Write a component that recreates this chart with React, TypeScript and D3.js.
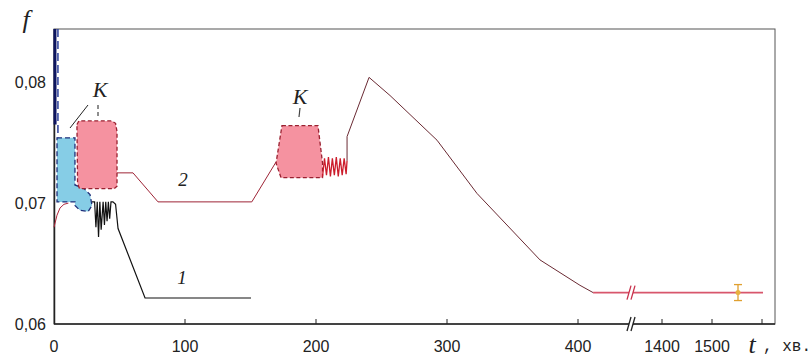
import { useEffect, useRef } from "react";
import * as d3 from "d3";

// t (min) and f values
const yTicks = [0.06, 0.07, 0.08];
const yTickLabels = ["0,06", "0,07", "0,08"];
const xTicks = [100, 200, 300, 400, 1400, 1500, 1600];
const xTickLabels = [
  [0, "0"],
  [100, "100"],
  [200, "200"],
  [300, "300"],
  [400, "400"],
  [1400, "1400"],
  [1500, "1500"],
];

// curve 1
const curve1Start = [
  [0.7, 0.0844],
  [0.8, 0.0765],
];
const curve1 = [
  [29, 0.0701],
  [31, 0.0701],
  [32, 0.068],
  [33, 0.0701],
  [34, 0.0672],
  [35, 0.0701],
  [36, 0.0678],
  [37.5, 0.0701],
  [38.5, 0.0682],
  [39.5, 0.0701],
  [40.5, 0.0685],
  [41.5, 0.0701],
  [42.5, 0.0687],
  [43.5, 0.0701],
  [45, 0.0701],
  [47, 0.0699],
  [48.9, 0.0679],
  [69.5, 0.06215],
  [150.4, 0.06215],
];
// region K of curve 1
const blueBox = [
  [2.3, 0.0754],
  [16, 0.0754],
  [16, 0.0715],
  [22.9, 0.0712],
  [27.5, 0.0707],
  [29, 0.0698],
  [26, 0.0693],
  [19.8, 0.0694],
  [16, 0.0698],
  [16, 0.0701],
  [2.3, 0.0701],
];
const blueEdge = [
  [3, 0.0844],
  [3, 0.0754],
];

// curve 2
const curve2Start = [
  [0, 0.068],
  [2.3, 0.069],
  [4.6, 0.0696],
  [7.6, 0.0699],
  [11, 0.07],
];
const curve2a = [
  [48.1, 0.0725],
  [60.3, 0.0725],
  [79.4, 0.0701],
  [151, 0.0701],
  [169.5, 0.0734],
];
const curve2Zig = [
  [205, 0.0722],
  [206.5, 0.0737],
  [208, 0.0723],
  [209.5, 0.0738],
  [211, 0.0722],
  [212.5, 0.0737],
  [214, 0.0723],
  [215.5, 0.0738],
  [217, 0.0722],
  [218.5, 0.0737],
  [220, 0.0723],
  [221.5, 0.0737],
  [223, 0.0724],
  [223.7, 0.0735],
];
const curve2b = [
  [223.7, 0.0735],
  [223.7, 0.0755],
  [240.5, 0.0804],
  [256.5, 0.0789],
  [292.4, 0.0752],
  [322.9, 0.0708],
  [371, 0.0653],
  [401.5, 0.0632],
  [411.5, 0.0626],
];
const curve2End = [
  [411.5, 0.0626],
  [440, 0.0626],
];
const curve2After = [
  [1338, 0.0626],
  [1602, 0.0626],
];
// regions K of curve 2
const pinkBox1 = [
  [17.5, 0.0765],
  [19, 0.0768],
  [44, 0.0768],
  [47, 0.0766],
  [48.1, 0.0759],
  [48.1, 0.0714],
  [46, 0.0712],
  [19.5, 0.0712],
  [18, 0.0716],
];
const pinkBox2 = [
  [174, 0.0764],
  [201.5, 0.0764],
  [205, 0.0733],
  [205, 0.0721],
  [173.3, 0.0721],
  [169.5, 0.0733],
];
const errBar = { t: 1552, f: 0.0626, e: 0.00066 };

const App = () => {
  const ref = useRef(null);

  useEffect(() => {
    const W = 811;
    const H = 358;
    const svg = d3.select(ref.current).attr("width", W).attr("height", H);
    svg.selectAll("*").remove();

    const x = d3
      .scaleLinear()
      .domain([0, 440, 1338, 1626])
      .range([54, 630.4, 631, 775]);
    const y = d3.scaleLinear().domain([0.06, 0.0844]).range([324, 29]);

    const line = d3
      .line()
      .x((d) => x(d[0]))
      .y((d) => y(d[1]));
    const area = d3
      .line()
      .x((d) => x(d[0]))
      .y((d) => y(d[1]))
      .curve(d3.curveLinearClosed);

    // frame
    svg
      .append("rect")
      .attr("x", 54)
      .attr("y", 29)
      .attr("width", 775 - 54)
      .attr("height", 324 - 29)
      .attr("fill", "none")
      .attr("stroke", "#555")
      .attr("stroke-width", 1);
    svg
      .append("line")
      .attr("x1", 54.5)
      .attr("x2", 54.5)
      .attr("y1", 29)
      .attr("y2", 324)
      .attr("stroke", "#222")
      .attr("stroke-width", 1.5);
    svg
      .append("line")
      .attr("x1", 54)
      .attr("x2", 775)
      .attr("y1", 324)
      .attr("y2", 324)
      .attr("stroke", "#222")
      .attr("stroke-width", 1.5);

    // x ticks (inward)
    svg
      .selectAll(".xt")
      .data(xTicks)
      .join("line")
      .attr("x1", (d) => x(d))
      .attr("x2", (d) => x(d))
      .attr("y1", 324)
      .attr("y2", 319)
      .attr("stroke", "#222");

    svg
      .selectAll(".xl")
      .data(xTickLabels)
      .join("text")
      .attr("x", (d) => x(d[0]))
      .attr("y", 352)
      .attr("text-anchor", "middle")
      .attr("font-family", "Liberation Sans, Arial, sans-serif")
      .attr("font-size", 16)
      .attr("fill", "#222")
      .text((d) => d[1]);

    svg
      .selectAll(".yl")
      .data(yTicks)
      .join("text")
      .attr("x", 46)
      .attr("y", (d) => y(d) + 6)
      .attr("text-anchor", "end")
      .attr("font-family", "Liberation Sans, Arial, sans-serif")
      .attr("font-size", 16)
      .attr("fill", "#222")
      .text((d, i) => yTickLabels[i]);

    // curve 2 start (under the fills)
    svg
      .append("path")
      .attr("d", line(curve2Start))
      .attr("fill", "none")
      .attr("stroke", "#b0283c")
      .attr("stroke-width", 1);

    // region K, curve 1
    svg
      .append("path")
      .attr("d", area(blueBox))
      .attr("fill", "#86cde6")
      .attr("stroke", "#1f2f7a")
      .attr("stroke-width", 1.3)
      .attr("stroke-dasharray", "5,3");
    svg
      .append("path")
      .attr("d", line(blueEdge))
      .attr("fill", "none")
      .attr("stroke", "#2a3f9a")
      .attr("stroke-width", 1.5)
      .attr("stroke-dasharray", "8,4");
    svg
      .append("path")
      .attr("d", line(curve1Start))
      .attr("fill", "none")
      .attr("stroke", "#0d1560")
      .attr("stroke-width", 3);

    // regions K, curve 2
    [pinkBox1, pinkBox2].forEach((b) => {
      svg
        .append("path")
        .attr("d", area(b))
        .attr("fill", "#f592a0")
        .attr("stroke", "#9a2030")
        .attr("stroke-width", 1.3)
        .attr("stroke-dasharray", "4,2.5");
    });

    // curve 1
    svg
      .append("path")
      .attr("d", line(curve1))
      .attr("fill", "none")
      .attr("stroke", "#111")
      .attr("stroke-width", 1.2);

    // curve 2
    svg
      .append("path")
      .attr("d", line(curve2a))
      .attr("fill", "none")
      .attr("stroke", "#9e2436")
      .attr("stroke-width", 1);
    svg
      .append("path")
      .attr("d", line(curve2Zig))
      .attr("fill", "none")
      .attr("stroke", "#cc1d2c")
      .attr("stroke-width", 1.3);
    svg
      .append("path")
      .attr("d", line(curve2b))
      .attr("fill", "none")
      .attr("stroke", "#6a2a33")
      .attr("stroke-width", 1);
    [curve2End, curve2After].forEach((seg) => {
      svg
        .append("path")
        .attr("d", line(seg))
        .attr("fill", "none")
        .attr("stroke", "#d8566c")
        .attr("stroke-width", 1.8);
    });

    // break marks
    const bx = 631;
    [y(0.0626), 324].forEach((by, i) => {
      const col = i === 0 ? "#c8304a" : "#222";
      svg
        .append("rect")
        .attr("x", bx - 2)
        .attr("y", by - 3)
        .attr("width", 4)
        .attr("height", 6)
        .attr("fill", "#fff");
      [-2, 2].forEach((o) => {
        svg
          .append("line")
          .attr("x1", bx + o - 2)
          .attr("y1", by + 7)
          .attr("x2", bx + o + 2)
          .attr("y2", by - 7)
          .attr("stroke", col)
          .attr("stroke-width", 1.3);
      });
    });

    // error bar
    const ex = x(errBar.t);
    svg
      .append("line")
      .attr("x1", ex)
      .attr("x2", ex)
      .attr("y1", y(errBar.f + errBar.e))
      .attr("y2", y(errBar.f - errBar.e))
      .attr("stroke", "#e0a030")
      .attr("stroke-width", 1.3);
    [errBar.f + errBar.e, errBar.f - errBar.e].forEach((v) => {
      svg
        .append("line")
        .attr("x1", ex - 4)
        .attr("x2", ex + 4)
        .attr("y1", y(v))
        .attr("y2", y(v))
        .attr("stroke", "#e0a030")
        .attr("stroke-width", 1.3);
    });
    svg
      .append("circle")
      .attr("cx", ex)
      .attr("cy", y(errBar.f))
      .attr("r", 2.5)
      .attr("fill", "#e8b040");

    // leaders for K
    svg
      .append("line")
      .attr("x1", 88)
      .attr("y1", 105)
      .attr("x2", 70)
      .attr("y2", 128)
      .attr("stroke", "#222")
      .attr("stroke-width", 1);
    svg
      .append("line")
      .attr("x1", 98)
      .attr("y1", 105)
      .attr("x2", 98)
      .attr("y2", 117)
      .attr("stroke", "#444")
      .attr("stroke-width", 1.2)
      .attr("stroke-dasharray", "4,3");
    svg
      .append("line")
      .attr("x1", 300)
      .attr("y1", 108)
      .attr("x2", 299)
      .attr("y2", 117)
      .attr("stroke", "#444")
      .attr("stroke-width", 1.2);

    const serif = "Liberation Serif, Times New Roman, serif";
    const label = (tx, ty, s, size) =>
      svg
        .append("text")
        .attr("x", tx)
        .attr("y", ty)
        .attr("text-anchor", "middle")
        .attr("font-family", serif)
        .attr("font-style", "italic")
        .attr("font-size", size)
        .attr("fill", "#222")
        .text(s);
    label(100, 97, "K", 22);
    label(300, 104, "K", 22);
    label(183, 186, "2", 19);
    label(182, 284, "1", 19);
    label(26, 28, "f", 26);
    label(752, 353, "t", 26);

    svg
      .append("text")
      .attr("x", 763)
      .attr("y", 351)
      .attr("font-family", "Liberation Mono, Courier New, monospace")
      .attr("font-size", 16)
      .attr("fill", "#222")
      .text(", хв.");
  }, []);

  return (
    <div style={{ position: "absolute", left: 0, top: 0, background: "#fff" }}>
      <svg ref={ref}></svg>
    </div>
  );
};

export default App;
